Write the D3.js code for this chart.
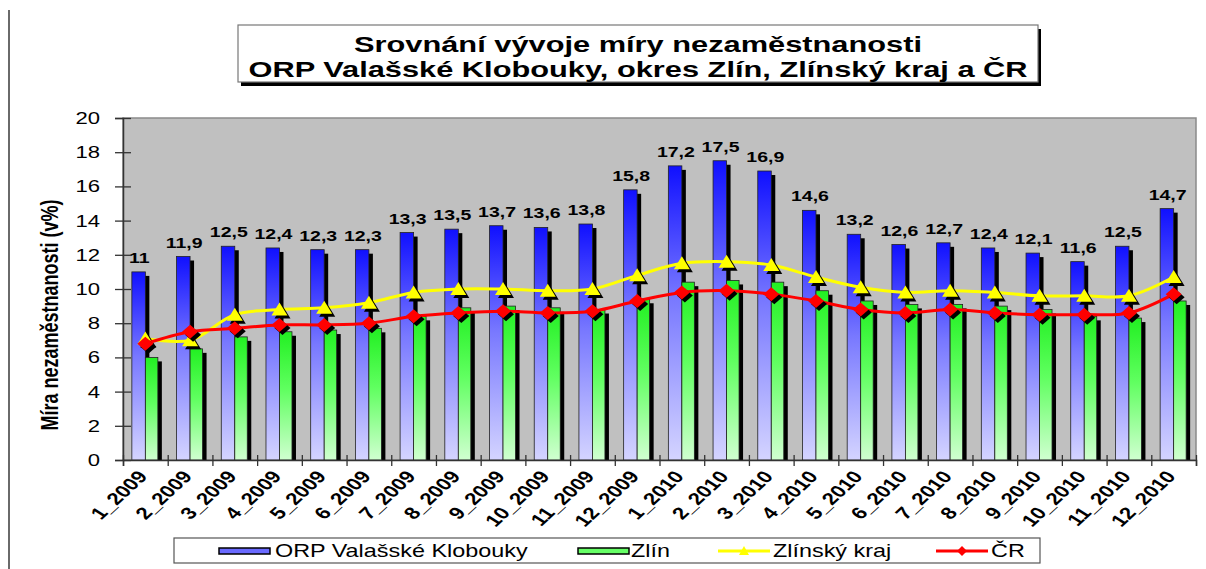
<!DOCTYPE html>
<html>
<head>
<meta charset="utf-8">
<script src="https://cdn.jsdelivr.net/npm/d3@7"></script>
<style>
  body { margin: 0; background: #fff; }
  text { font-family: Arial, "Liberation Sans", sans-serif; }
</style>
</head>
<body>
<div id="chart"></div>
<script>
// data
var categories = ["1_2009", "2_2009", "3_2009", "4_2009", "5_2009", "6_2009", "7_2009", "8_2009",
  "9_2009", "10_2009", "11_2009", "12_2009", "1_2010", "2_2010", "3_2010", "4_2010", "5_2010",
  "6_2010", "7_2010", "8_2010", "9_2010", "10_2010", "11_2010", "12_2010"];
var orp = [11, 11.9, 12.5, 12.4, 12.3, 12.3, 13.3, 13.5, 13.7, 13.6, 13.8, 15.8,
  17.2, 17.5, 16.9, 14.6, 13.2, 12.6, 12.7, 12.4, 12.1, 11.6, 12.5, 14.7];
var zlin = [6.0, 6.5, 7.2, 7.5, 7.6, 7.7, 8.4, 8.9, 9.0, 8.9, 8.8, 9.4,
  10.4, 10.5, 10.4, 9.9, 9.3, 9.1, 9.1, 9.0, 8.8, 8.4, 8.3, 9.3];
var kraj = [7.1, 7.0, 8.5, 8.8, 8.9, 9.2, 9.8, 10.0, 10.0, 9.9, 10.0, 10.8,
  11.5, 11.6, 11.4, 10.7, 10.1, 9.8, 9.9, 9.8, 9.6, 9.6, 9.6, 10.7];
var cr = [6.8, 7.5, 7.7, 7.9, 7.9, 8.0, 8.4, 8.6, 8.7, 8.6, 8.7, 9.3,
  9.8, 9.9, 9.7, 9.3, 8.8, 8.6, 8.8, 8.6, 8.5, 8.5, 8.6, 9.7];
var yTicks = [0, 2, 4, 6, 8, 10, 12, 14, 16, 18, 20];
var seriesNames = ["ORP Valašské Klobouky", "Zlín", "Zlínský kraj", "ČR"];
var titleLines = ["Srovnání vývoje míry nezaměstnanosti", "ORP Valašské Klobouky, okres Zlín, Zlínský kraj a ČR"];
var yTitle = "Míra nezaměstnanosti (v%)";

var width = 1206, height = 569;
var SX = 1.3; // the picture is stretched sideways, so is the text
var pL = 123, pR = 1196, pT = 118, pB = 460;

var svg = d3.select("#chart").append("svg")
  .attr("width", width).attr("height", height);

var defs = svg.append("defs");
function grad(id, c1, c2, c3) {
  var g = defs.append("linearGradient").attr("id", id)
    .attr("x1", 0).attr("y1", 0).attr("x2", 0).attr("y2", 1);
  g.append("stop").attr("offset", "0%").attr("stop-color", c1);
  g.append("stop").attr("offset", "45%").attr("stop-color", c2);
  g.append("stop").attr("offset", "100%").attr("stop-color", c3);
}
grad("gBlue", "#1010ff", "#7878ff", "#d4d4ff");
grad("gGreen", "#22f022", "#60ff60", "#d0ffd0");

// stretched text helper
function stext(parent, x, y, str, size, weight, anchor, rot, sx) {
  var g = parent.append("g")
    .attr("transform", "translate(" + x + "," + y + ") scale(" + (sx || SX) + ",1)" + (rot ? " rotate(" + rot + ")" : ""));
  return g.append("text")
    .attr("font-size", size)
    .attr("font-weight", weight)
    .attr("text-anchor", anchor)
    .attr("fill", "#000")
    .text(str);
}

// outer frame line on the left
svg.append("line").attr("x1", 9).attr("x2", 9).attr("y1", 10).attr("y2", height)
  .attr("stroke", "#6a6a6a").attr("stroke-width", 2);

// title box
svg.append("rect").attr("x", 241).attr("y", 29).attr("width", 800).attr("height", 57).attr("fill", "#000");
svg.append("rect").attr("x", 238).attr("y", 25).attr("width", 800).attr("height", 57)
  .attr("fill", "#fff").attr("stroke", "#777").attr("stroke-width", 1.2);
stext(svg, 638, 52, titleLines[0], 22, "bold", "middle", 0, 1.4);
stext(svg, 638, 77, titleLines[1], 22, "bold", "middle", 0, 1.4);

// scales
var x = d3.scaleBand().domain(categories).range([pL, pR]).padding(0);
var xi = d3.scaleLinear().domain([0, categories.length]).range([pL, pR]);
var y = d3.scaleLinear().domain([0, 20]).range([pB, pT]);
var bw = x.bandwidth();
function cx(c) { return x(c) + bw / 2; }

// plot area
svg.append("rect").attr("x", pL).attr("y", pT).attr("width", pR - pL).attr("height", pB - pT)
  .attr("fill", "#c0c0c0").attr("stroke", "#8a8a8a").attr("stroke-width", 1.5);

// bars
var bars = svg.append("g");
var blueW = 13.5, greenW = 12.5, sh = 4;
bars.selectAll("rect.bs").data(orp).enter().append("rect")
  .attr("x", function(d, i) { return cx(categories[i]) - blueW + sh; })
  .attr("y", function(d) { return y(d) + sh; })
  .attr("width", blueW).attr("height", function(d) { return pB - y(d) - sh; })
  .attr("fill", "#000");
bars.selectAll("rect.gs").data(zlin).enter().append("rect")
  .attr("x", function(d, i) { return cx(categories[i]) + sh; })
  .attr("y", function(d) { return y(d) + sh; })
  .attr("width", greenW).attr("height", function(d) { return pB - y(d) - sh; })
  .attr("fill", "#000");
bars.selectAll("rect.b").data(orp).enter().append("rect")
  .attr("x", function(d, i) { return cx(categories[i]) - blueW; })
  .attr("y", function(d) { return y(d); })
  .attr("width", blueW).attr("height", function(d) { return pB - y(d); })
  .attr("fill", "url(#gBlue)").attr("stroke", "#222").attr("stroke-width", 0.8);
bars.selectAll("rect.g").data(zlin).enter().append("rect")
  .attr("x", function(d, i) { return cx(categories[i]); })
  .attr("y", function(d) { return y(d); })
  .attr("width", greenW).attr("height", function(d) { return pB - y(d); })
  .attr("fill", "url(#gGreen)").attr("stroke", "#222").attr("stroke-width", 0.8);

// value labels over the ORP bars
orp.forEach(function(d, i) {
  stext(svg, cx(categories[i]) - 6, y(d) - 9, String(d).replace(".", ","), 15, "bold", "middle");
});

// axes
var yAxis = svg.append("g").attr("transform", "translate(" + pL + ",0)")
  .call(d3.axisLeft(y).tickValues(yTicks).tickSize(8).tickPadding(15));
yAxis.select(".domain").attr("stroke", "#333").attr("stroke-width", 1.5);
yAxis.selectAll(".tick line").attr("x1", 8).attr("x2", -8).attr("stroke", "#333").attr("stroke-width", 1.3);
yAxis.selectAll(".tick text")
  .attr("font-size", 17).attr("fill", "#000")
  .attr("font-family", "Arial, 'Liberation Sans', sans-serif")
  .attr("x", -23 / SX).attr("transform", "scale(" + SX + ",1)");

var xAxis = svg.append("g").attr("transform", "translate(0," + pB + ")")
  .call(d3.axisBottom(xi).tickValues(d3.range(categories.length + 1)).tickSize(6).tickFormat(""));
xAxis.select(".domain").attr("stroke", "#333").attr("stroke-width", 1.5);
xAxis.selectAll(".tick line").attr("y1", -5).attr("y2", 6).attr("stroke", "#333").attr("stroke-width", 1.3);

categories.forEach(function(c) {
  stext(svg, cx(c) + 3, pB + 17, c, 17, "bold", "end", -50);
});

// y title
stext(svg, 58, 315, yTitle, 18, "bold", "middle", -90);

// line series with shadowed markers (Excel style smoothed lines)
var tri = "M-8,6L8,6L0,-7Z";
var dia = "M-8,0L0,-7L8,0L0,7Z";
function drawLine(vals, color, shape) {
  var line = d3.line()
    .curve(d3.curveCatmullRom.alpha(0.5))
    .x(function(d, i) { return cx(categories[i]); })
    .y(function(d) { return y(d); });
  svg.append("path").datum(vals).attr("d", line)
    .attr("fill", "none").attr("stroke", color).attr("stroke-width", 3);
  var g = svg.append("g");
  g.selectAll("path.s").data(vals).enter().append("path")
    .attr("d", shape).attr("fill", "#000")
    .attr("transform", function(d, i) { return "translate(" + (cx(categories[i]) + 3) + "," + (y(d) + 3) + ")"; });
  g.selectAll("path.m").data(vals).enter().append("path")
    .attr("d", shape).attr("fill", color)
    .attr("transform", function(d, i) { return "translate(" + cx(categories[i]) + "," + y(d) + ")"; });
}
drawLine(kraj, "#ffff00", tri);
drawLine(cr, "#ff0000", dia);

// legend
var lg = svg.append("g");
lg.append("rect").attr("x", 174).attr("y", 538).attr("width", 866).attr("height", 25)
  .attr("fill", "#fff").attr("stroke", "#555").attr("stroke-width", 1.2);
var ly = 551;
lg.append("rect").attr("x", 219).attr("y", ly - 3).attr("width", 51).attr("height", 6)
  .attr("fill", "#6a6aff").attr("stroke", "#000").attr("stroke-width", 1.5);
stext(lg, 275, ly + 6, seriesNames[0], 18, "normal", "start");
lg.append("rect").attr("x", 578).attr("y", ly - 3).attr("width", 51).attr("height", 6)
  .attr("fill", "#66ff66").attr("stroke", "#000").attr("stroke-width", 1.5);
stext(lg, 631, ly + 6, seriesNames[1], 18, "normal", "start");
lg.append("line").attr("x1", 718).attr("x2", 770).attr("y1", ly).attr("y2", ly)
  .attr("stroke", "#ffff00").attr("stroke-width", 3);
lg.append("path").attr("d", "M-5,4L5,4L0,-5Z").attr("fill", "#ffff00")
  .attr("transform", "translate(744," + ly + ")");
stext(lg, 773, ly + 6, seriesNames[2], 18, "normal", "start");
lg.append("line").attr("x1", 936).attr("x2", 988).attr("y1", ly).attr("y2", ly)
  .attr("stroke", "#ff0000").attr("stroke-width", 3);
lg.append("path").attr("d", "M-5,0L0,-5L5,0L0,5Z").attr("fill", "#ff0000")
  .attr("transform", "translate(962," + ly + ")");
stext(lg, 991, ly + 6, seriesNames[3], 18, "normal", "start");
</script>
</body>
</html>
